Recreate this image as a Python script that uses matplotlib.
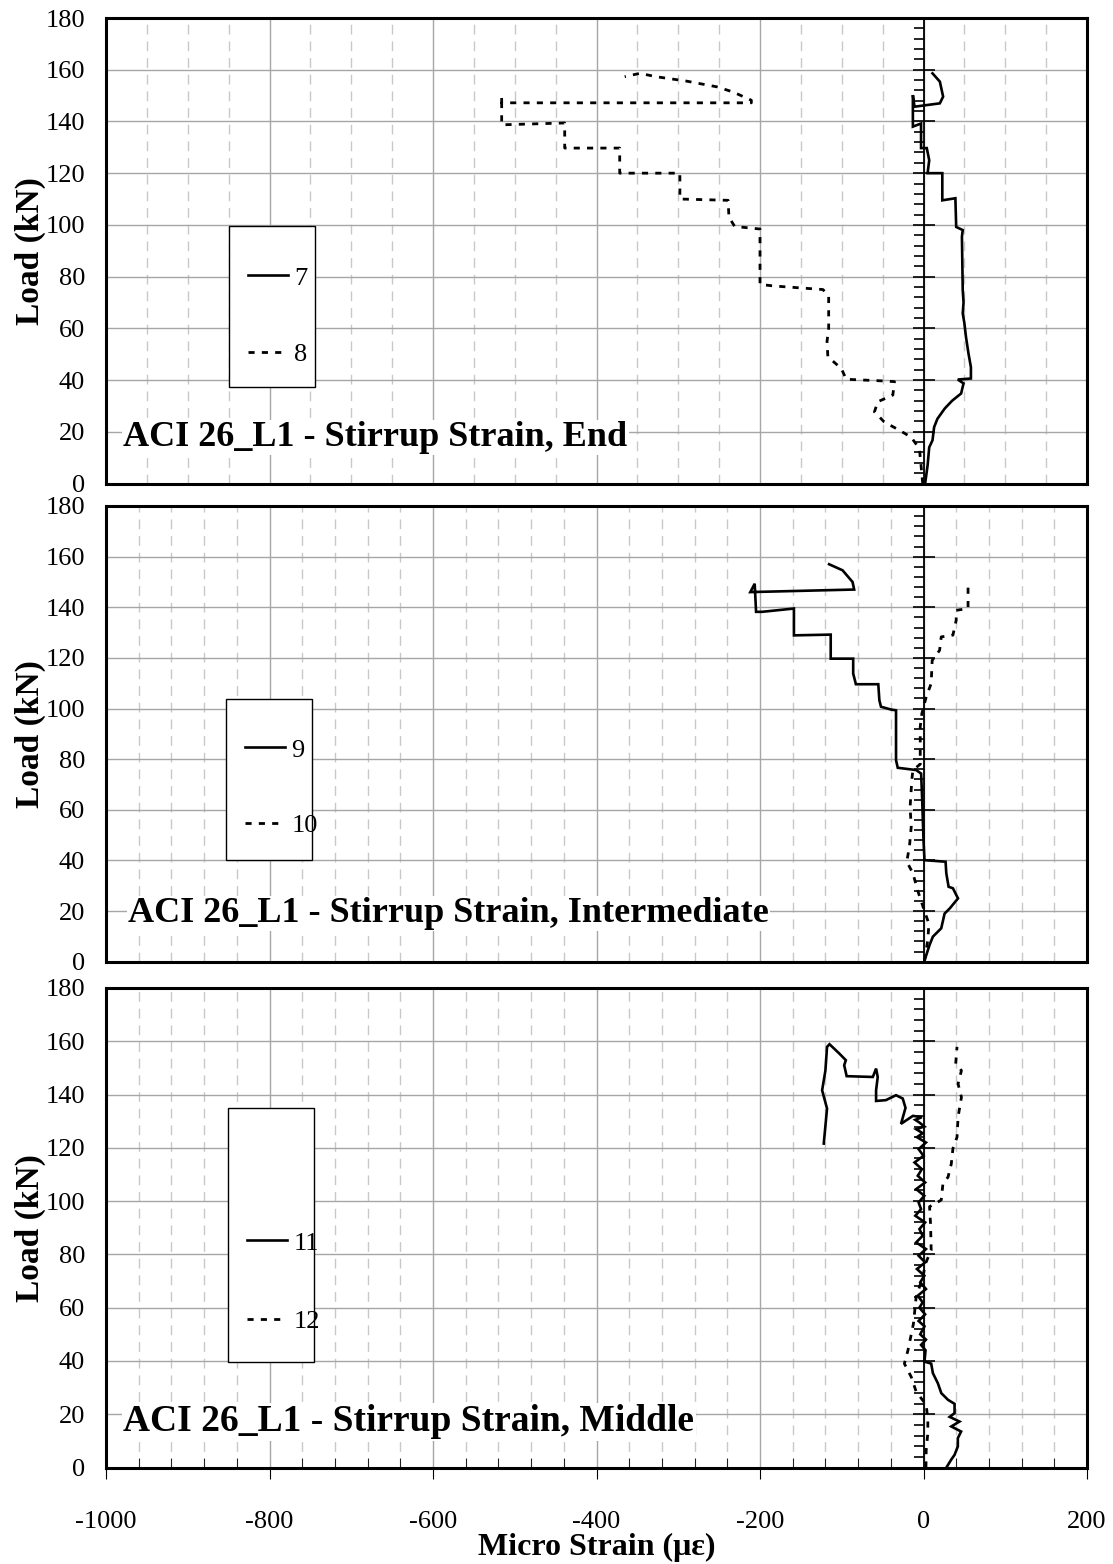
import matplotlib.pyplot as plt
from matplotlib.lines import Line2D
from matplotlib.patches import Rectangle
from matplotlib.ticker import MultipleLocator

plt.rcParams['font.family'] = ['Liberation Serif', 'DejaVu Serif']
plt.rcParams['axes.unicode_minus'] = False

# gauge readings: micro strain vs load (kN)
g7_strain = [2, 5, 7, 11, 13, 17, 26, 35, 46, 49, 42, 58, 58, 55, 52, 50, 48, 49, 48, 47, 48,
             40, 39, 23, 23, 5, 7, 4, -3, -3, -13, -13, -11, 20, 24, 20, 11]
g7_load = [0, 7, 14, 16.7, 21.8, 25, 29, 32, 34.8, 38.7, 40.2, 40.6, 45, 50.3, 56.6, 62, 65.8,
           70, 74.7, 95.4, 98, 99.2, 110.3, 109.5, 120, 120, 125, 129.7, 129.7, 139.2, 138,
           150.2, 145.7, 147, 149.6, 155.4, 158.6]

g8_strain = [-1, -3, -5, -15, -29, -48, -60, -56, -37.5, -35.5, -52, -94.5, -100.6, -117, -118,
             -116, -116, -123, -184, -200, -200, -231, -238, -239, -298, -298, -371.6, -371.6,
             -438.9, -438.9, -516, -516, -516, -210.6, -210.6, -233, -253, -290, -327, -347, -365.5]
g8_load = [0, 7, 13.4, 17.9, 20.5, 23.8, 27.7, 31.6, 34.2, 39.4, 39.7, 40.3, 44.5, 49, 55,
           60, 72.5, 75, 76.4, 77, 98.4, 99.4, 103, 109.5, 110, 120, 120, 129.7,
           129.7, 139.4, 138.7, 149.7, 147.2, 147.2, 148.2, 151.4, 153.4, 155.6, 157.3, 158.6, 157.3]

g9_strain = [1.2, 7.4, 11.5, 21.7, 25.8, 32, 42.2, 36, 30.7, 27.9, 27, 1.2, 0, -1.6, -2.9, -9,
             -31.5, -33.6, -33.6, -39.7, -52, -54, -55.3, -82.7, -86, -86, -113.5, -113.5,
             -158.5, -158.5, -197.5, -204.8, -206.5, -211.8, -84.8, -86.8, -99, -115.5]
g9_load = [0.4, 6.6, 9.9, 13.2, 19, 21, 25, 29, 29.6, 34.9, 39.5, 40.1, 48, 63.8, 74.3, 75.7,
           76.6, 79.6, 99.3, 99.6, 100.7, 103.3, 109.6, 109.6, 113.8, 119.7, 119.7, 129.2,
           128.9, 139.5, 138.2, 138.2, 149.3, 146, 147, 150, 154.6, 157]

g10_strain = [1.2, 5.3, 6.6, 1.2, -7, -13, -20.5, -17.2, -15, -16.4, -14.3, -13, -4, -4, -2, 3.3,
              9.4, 10.6, 19.7, 21.7, 36, 40, 40, 54.5, 54.5, 52.4]
g10_load = [0.4, 8.6, 15, 20, 28, 35, 39.5, 45.4, 53.3, 61, 71.7, 75.7, 78, 92.8, 98, 104.6,
            109.9, 119, 123, 128.3, 129, 134.9, 138.8, 139.5, 149.3, 150]

g11_strain = [28, 34, 38, 42, 42, 46, 34, 44, 32, 38, 38, 30, 21.8, 17.6, 11.5, 9.4, 1.2, 2.5,
              -3, 3, -4, 1.2, -6, 2, -5, -1, -7, 3, -4, 1, -8, 2, -6, 3, -9, -1, -5, 2,
              -10, -3, -6, 1, -9, 2, -7, -2, -11, 0, -6, 3, -8, -1, -9, 1, -5, -10, -2,
              -13, -27.5, -22, -25.4, -33.6, -46, -58, -58, -56, -58, -62, -94, -97, -95,
              -103, -115, -118, -120, -124, -118, -122]
g11_load = [0, 3, 4.75, 7.9, 11, 13.5, 15.4, 17.25, 19, 20.4, 23.9, 25.4, 27.9, 31.6, 35.4,
            39, 39.75, 44, 46, 48, 50, 53, 55, 57.5, 60, 62, 64.5, 67, 69.5, 72, 74.5, 77,
            79.5, 82, 84.5, 87, 89.5, 92, 94.5, 97, 99.5, 102, 104.5, 107, 109.5, 112,
            114.5, 117, 119.5, 122, 124, 125.5, 127, 128, 129.5, 130.5, 131.5,
            132, 129, 135, 138.5, 139.75, 137.9, 137.6, 141.6, 146.6, 149.75, 146.6, 146.9,
            151, 152.9, 155.4, 158.9, 157.9, 149, 141.6, 134.75, 121.6]

g12_strain = [3, 3.3, 5.3, 5.3, 3.3, -9, -15, -23.4, -19, -12.3, -9, -0.8, 2.5, 9.4, 8.6, 7.4,
              21.7, 23.8, 30, 34, 36, 41, 42.3, 46.4, 42.3, 46.4, 39.4, 41]
g12_load = [0, 6.6, 12.9, 17.9, 23.5, 28.5, 34, 39, 44, 54, 64, 71.6, 76.6, 81.6, 91.6, 97.9,
            100.4, 106.6, 109, 114, 119.75, 124, 131.6, 139, 144, 149, 151.6, 157.9]

titles = ["ACI 26_L1 - Stirrup Strain, End",
          "ACI 26_L1 - Stirrup Strain, Intermediate",
          "ACI 26_L1 - Stirrup Strain, Middle"]
title_sizes = [26, 26, 27]
gauge_names = [("7", "8"), ("9", "10"), ("11", "12")]
minor_steps = [50, 40, 40]

W, H = 1113, 1564
fig = plt.figure(figsize=(W / 100, H / 100), dpi=100)

# panel boxes in pixels: (top, bottom)
panel_px = [(18, 483.5), (506, 961.7), (988, 1467.5)]
left_px, right_px = 106, 1087
# legend box: (left, top, bottom) px, entry rows (px)
legend_px = [(229, 226, 387, 268, 351), (226, 699, 860, 740, 822), (228, 1108, 1362, 1233, 1318)]
title_px = [(123, 446), (128, 922), (123, 1431)]

data = [(g7_strain, g7_load, g8_strain, g8_load),
        (g9_strain, g9_load, g10_strain, g10_load),
        (g11_strain, g11_load, g12_strain, g12_load)]

DOTS = (0, (2.2, 2.6))


def draw_panel(i, bottom_panel):
    top, bot = panel_px[i]
    aw = right_px - left_px
    ah = bot - top
    ax = fig.add_axes([left_px / W, 1 - bot / H, aw / W, ah / H])
    ax.set_xlim(-1000, 200)
    ax.set_ylim(0, 180)
    ax.xaxis.set_major_locator(MultipleLocator(200))
    ax.xaxis.set_minor_locator(MultipleLocator(minor_steps[i]))
    ax.yaxis.set_major_locator(MultipleLocator(20))
    ax.grid(True, which='major', color='#a6a6a6', lw=1.0)
    ax.grid(True, which='minor', axis='x', color='#c8c8c8', lw=1.0, linestyle=(0, (7, 5)))
    ax.set_axisbelow(True)
    for s in ax.spines.values():
        s.set_linewidth(2.2)
        s.set_color('black')
    ax.tick_params(axis='y', length=0, labelsize=19, pad=15)
    if bottom_panel:
        ax.tick_params(axis='x', which='major', direction='out', length=8, labelsize=19, pad=23)
        ax.tick_params(axis='x', which='minor', direction='in', length=7)
        ax.set_xlabel("Micro Strain (\u03bc\u03b5)", fontsize=23, fontweight='bold', labelpad=0)
    else:
        ax.tick_params(axis='x', which='both', length=0, labelbottom=False)
    ax.set_ylabel("Load (kN)", fontsize=24, fontweight='bold', labelpad=0)

    # vertical axis crossing at zero strain
    ax0 = ax.twinx()
    ax0.set_ylim(0, 180)
    ax0.spines['right'].set_position(('data', 0))
    ax0.spines['right'].set_linewidth(1.3)
    for s in ['left', 'top', 'bottom']:
        ax0.spines[s].set_visible(False)
    ax0.yaxis.set_major_locator(MultipleLocator(20))
    ax0.yaxis.set_minor_locator(MultipleLocator(4))
    ax0.tick_params(which='major', direction='inout', length=16, width=1.2, labelright=False)
    ax0.tick_params(which='minor', direction='in', length=7, width=1.2)

    xs, ys, xd, yd = data[i]
    ax.plot(xs, ys, color='black', lw=1.9, solid_joinstyle='miter', zorder=4)
    ax.plot(xd, yd, color='black', lw=2.0, linestyle=DOTS, zorder=4)

    tx, ty = title_px[i]
    ax.text((tx - left_px) / aw, (bot - ty) / ah, titles[i],
            transform=ax.transAxes, fontsize=title_sizes[i], fontweight='bold',
            va='baseline', ha='left', zorder=3,
            bbox=dict(facecolor='white', edgecolor='none', pad=1))

    # legend box
    lx, ltop, lbot, r1, r2 = legend_px[i]
    ax.add_patch(Rectangle(((lx - left_px) / aw, (bot - lbot) / ah), 86 / aw, (lbot - ltop) / ah,
                           transform=ax.transAxes, facecolor='white', edgecolor='black',
                           lw=1.0, zorder=5))
    handles = [Line2D([], [], color='black', lw=1.9),
               Line2D([], [], color='black', lw=2.0, linestyle=DOTS)]
    leg = ax.legend(handles, gauge_names[i], loc='upper left', frameon=False,
                    bbox_to_anchor=((lx + 6 - left_px) / aw, (bot - r1 + 15) / ah),
                    borderpad=0, handlelength=1.5, handletextpad=0.25,
                    labelspacing=(r2 - r1 - 30) / 26.4, fontsize=19)
    leg.set_zorder(6)
    return ax


for i in range(3):
    draw_panel(i, i == 2)

fig.savefig("out.png", dpi=100)
